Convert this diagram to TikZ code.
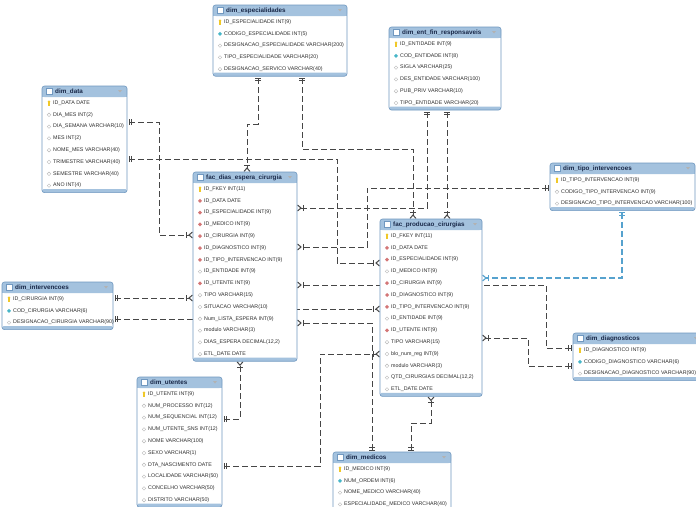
\documentclass[tikz,border=0pt]{standalone}
\usepackage{fontspec}
\setmainfont{Liberation Sans}
\usetikzlibrary{positioning,arrows.meta,backgrounds}
\definecolor{erhead}{RGB}{164,194,222}
\definecolor{erframe}{RGB}{112,152,192}
\definecolor{erline}{RGB}{70,70,70}
\definecolor{ersel}{RGB}{86,162,206}
\definecolor{erkey}{RGB}{240,200,40}
\definecolor{erfk}{RGB}{212,118,118}
\definecolor{ernn}{RGB}{70,182,200}
\definecolor{ertitle}{RGB}{25,40,72}

% table: name, top left, width, number of rows, title, fields
\newcommand{\erTable}[6]{%
  \node[tblbox, minimum width=#3, minimum height={#4*11.8pt+12.2pt}, anchor=north west] (#1) at (#2) {};
  \fill[erhead, rounded corners=2.5pt] (#1.north west) rectangle ([yshift=-11pt]#1.north east);
  \fill[erhead] ([yshift=-6pt]#1.north west) rectangle ([yshift=-11pt]#1.north east);
  \fill[erhead, rounded corners=1.5pt] ([yshift=3.5pt]#1.south west) rectangle (#1.south east);
  \draw[tblframe] (#1.north west) rectangle (#1.south east);
  \draw[erframe, fill=white, line width=0.5pt] ([xshift=4pt,yshift=-2.5pt]#1.north west) rectangle ([xshift=10pt,yshift=-8.5pt]#1.north west);
  \fill[gray!60] ([xshift=-9pt,yshift=-4pt]#1.north east) -- ++(4pt,0pt) -- ++(-2pt,-2.5pt) -- cycle;
  \node[tbltitle, anchor=west] (#1-t) at ([xshift=13pt,yshift=-5.5pt]#1.north west) {#5};
  \foreach \fty/\ftxt [count=\frow from 0] in {#6} {
    \pic at ([xshift=7pt,yshift=-17pt-11.8pt*\frow]#1.north west) {fld-\fty};
    \node[fldtext, anchor=west] (#1-\frow) at ([xshift=11pt,yshift=-17pt-11.8pt*\frow]#1.north west) {\ftxt};
  }
}

\begin{document}
\begin{tikzpicture}[x=1pt, y=-1pt, every node/.style={font=\fontsize{5.3}{6.3}\selectfont}]
  \tikzset{
    tblbox/.style={fill=white, inner sep=0pt, outer sep=0pt},
    tblframe/.style={draw=erframe, line width=0.6pt, rounded corners=2.5pt},
    tbltitle/.style={font=\fontsize{6.3}{7.5}\selectfont\bfseries, text=ertitle, inner sep=0pt},
    fldtext/.style={text=black!82, inner sep=0pt},
    rel/.style={draw=erline, line width=1pt, dash pattern=on 6pt off 3pt},
    hilite/.style={draw=ersel, line width=1.1pt},
    onemany/.style={arrows={Bar[width=6pt,sep=1.5pt]Bar[width=6pt,sep=1.5pt]-Bar[width=6pt,sep=1pt]Straight Barb[reversed,length=3.5pt,width=6pt]}},
    pics/fld-k/.style={code={
      \fill[erkey] (-0.7pt,-2.6pt) rectangle (0.7pt,0.8pt);
      \fill[erkey] (0pt,1.3pt) circle (1.3pt);}},
    pics/fld-f/.style={code={
      \fill[erfk] (-2pt,0pt) -- (0pt,2pt) -- (2pt,0pt) -- (0pt,-2pt) -- cycle;}},
    pics/fld-n/.style={code={
      \fill[ernn] (-2pt,0pt) -- (0pt,2pt) -- (2pt,0pt) -- (0pt,-2pt) -- cycle;}},
    pics/fld-o/.style={code={
      \draw[gray!55, fill=white, line width=0.4pt] (-1.8pt,0pt) -- (0pt,1.8pt) -- (1.8pt,0pt) -- (0pt,-1.8pt) -- cycle;}}
  }
  \useasboundingbox (0,0) rectangle (696,506);
  \clip (0,0) rectangle (696,506);

  \erTable{esp}{213,5}{134pt}{5}{dim\_especialidades}{k/ID\_ESPECIALIDADE INT(9), n/CODIGO\_ESPECIALIDADE INT(5), o/DESIGNACAO\_ESPECIALIDADE VARCHAR(200), o/TIPO\_ESPECIALIDADE VARCHAR(20), o/DESIGNACAO\_SERVICO VARCHAR(40)}
  \erTable{efr}{389,27}{112pt}{6}{dim\_ent\_fin\_responsaveis}{k/ID\_ENTIDADE INT(9), n/COD\_ENTIDADE INT(8), o/SIGLA VARCHAR(25), o/DES\_ENTIDADE VARCHAR(100), o/PUB\_PRIV VARCHAR(10), o/TIPO\_ENTIDADE VARCHAR(20)}
  \erTable{dat}{42,86}{85pt}{8}{dim\_data}{k/ID\_DATA DATE, o/DIA\_MES INT(2), o/DIA\_SEMANA VARCHAR(10), o/MES INT(2), o/NOME\_MES VARCHAR(40), o/TRIMESTRE VARCHAR(40), o/SEMESTRE VARCHAR(40), o/ANO INT(4)}
  \erTable{fde}{193,172}{104pt}{15}{fac\_dias\_espera\_cirurgia}{k/ID\_FKEY INT(11), f/ID\_DATA DATE, f/ID\_ESPECIALIDADE INT(9), f/ID\_MEDICO INT(9), f/ID\_CIRURGIA INT(9), f/ID\_DIAGNOSTICO INT(9), f/ID\_TIPO\_INTERVENCAO INT(9), o/ID\_ENTIDADE INT(9), f/ID\_UTENTE INT(9), o/TIPO VARCHAR(15), o/SITUACAO VARCHAR(10), o/Num\_LISTA\_ESPERA INT(9), o/modulo VARCHAR(3), o/{DIAS\_ESPERA DECIMAL(12,2)}, o/ETL\_DATE DATE}
  \erTable{fpc}{380,219}{102pt}{14}{fac\_producao\_cirurgias}{k/ID\_FKEY INT(11), f/ID\_DATA DATE, f/ID\_ESPECIALIDADE INT(9), o/ID\_MEDICO INT(9), f/ID\_CIRURGIA INT(9), f/ID\_DIAGNOSTICO INT(9), f/ID\_TIPO\_INTERVENCAO INT(9), o/ID\_ENTIDADE INT(9), f/ID\_UTENTE INT(9), o/TIPO VARCHAR(15), o/blo\_num\_reg INT(9), o/modulo VARCHAR(3), o/{QTD\_CIRURGIAS DECIMAL(12,2)}, o/ETL\_DATE DATE}
  \erTable{tip}{550,163}{145pt}{3}{dim\_tipo\_intervencoes}{k/ID\_TIPO\_INTERVENCAO INT(9), o/CODIGO\_TIPO\_INTERVENCAO INT(9), o/DESIGNACAO\_TIPO\_INTERVENCAO VARCHAR(100)}
  \erTable{itv}{2,282}{111pt}{3}{dim\_intervencoes}{k/ID\_CIRURGIA INT(9), n/COD\_CIRURGIA VARCHAR(6), o/DESIGNACAO\_CIRURGIA VARCHAR(90)}
  \erTable{ute}{137,377}{85pt}{10}{dim\_utentes}{k/ID\_UTENTE INT(9), o/NUM\_PROCESSO INT(12), o/NUM\_SEQUENCIAL INT(12), o/NUM\_UTENTE\_SNS INT(12), o/NOME VARCHAR(100), o/SEXO VARCHAR(1), o/DTA\_NASCIMENTO DATE, o/LOCALIDADE VARCHAR(50), o/CONCELHO VARCHAR(50), o/DISTRITO VARCHAR(50)}
  \erTable{med}{333,452}{118pt}{4}{dim\_medicos}{k/ID\_MEDICO INT(9), n/NUM\_ORDEM INT(6), o/NOME\_MEDICO VARCHAR(40), o/ESPECIALIDADE\_MEDICO VARCHAR(40)}
  \erTable{dia}{573,333}{130pt}{3}{dim\_diagnosticos}{k/ID\_DIAGNOSTICO INT(9), n/CODIGO\_DIAGNOSTICO VARCHAR(6), o/DESIGNACAO\_DIAGNOSTICO VARCHAR(90)}

  \begin{scope}[on background layer]
    \fill[white] (0,0) rectangle (696,506);
    % dim_especialidades
    \draw[rel, onemany] (esp.south -| 258,0) -- (258,124) -| (fde.north -| 247,0);
    \draw[rel, onemany] (esp.south -| 302,0) -- (302,149) -| (fpc.north -| 413,0);
    % dim_data
    \draw[rel, onemany] (dat.east |- 0,122) -| (159,235) -- (fde.west |- 0,235);
    \draw[rel, onemany] (dat.east |- 0,159) -| (337,263) -- (fpc.west |- 0,263);
    % dim_ent_fin_responsaveis
    \draw[rel, onemany] (efr.south -| 427,0) |- (fde.east |- 0,208);
    \draw[rel, onemany] (efr.south -| 447,0) -- (fpc.north -| 447,0);
    % dim_tipo_intervencoes
    \draw[rel, onemany] (tip.west |- 0,188) -| (367,247) -- (fde.east |- 0,247);
    \draw[rel, hilite, onemany] (tip.south -| 622,0) |- (fpc.east |- 0,278);
    % dim_intervencoes
    \draw[rel, onemany] (itv.east |- 0,298) -- (fde.west |- 0,298);
    \draw[rel, onemany] (itv.east |- 0,319) -- (240,319) -- (240,309) -- (fpc.west |- 0,309);
    % dim_diagnosticos
    \draw[rel, onemany] (dia.west |- 0,348) -| (546,285) -- (fde.east |- 0,285);
    \draw[rel, onemany] (dia.west |- 0,366) -| (528,338) -- (fpc.east |- 0,338);
    % dim_medicos
    \draw[rel, onemany] (med.north -| 372,0) |- (fde.east |- 0,323);
    \draw[rel, onemany] (med.north -| 411,0) -- (411,423) -| (fpc.south -| 431,0);
    % dim_utentes
    \draw[rel, onemany] (ute.east |- 0,419) -| (fde.south -| 240,0);
    \draw[rel, onemany] (ute.east |- 0,466) -| (320,354) -- (fpc.west |- 0,354);
  \end{scope}
\end{tikzpicture}
\end{document}
